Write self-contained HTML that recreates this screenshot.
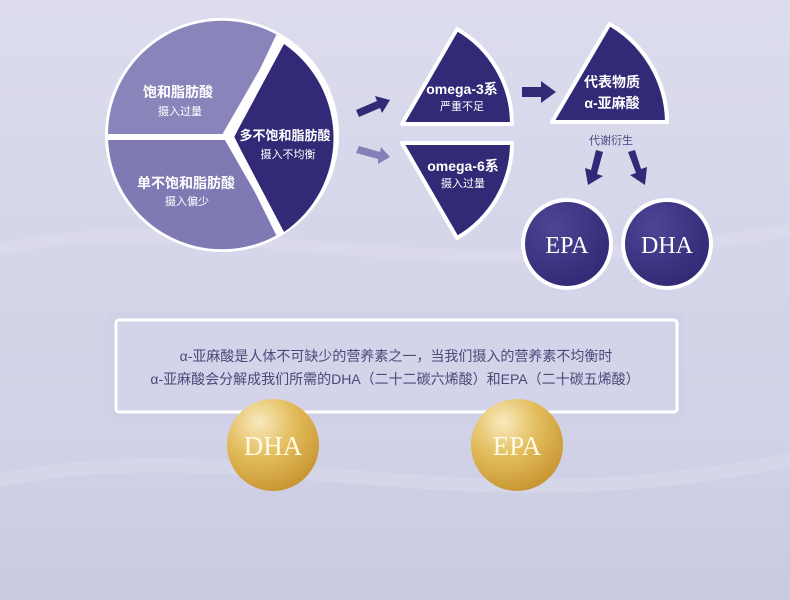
<!DOCTYPE html>
<html><head><meta charset="utf-8"><style>
html,body{margin:0;padding:0;width:790px;height:600px;overflow:hidden}
body{background:linear-gradient(180deg,#dcdcee 0%,#d6d6ea 40%,#d2d2e8 70%,#c9c9e0 100%);font-family:"Liberation Sans","Noto Sans CJK SC",sans-serif}
svg{position:absolute;left:0;top:0}
</style></head><body>
<svg width="790" height="600" viewBox="0 0 790 600" xmlns="http://www.w3.org/2000/svg">
<defs>
<radialGradient id="pur" cx="0.35" cy="0.3" r="0.8"><stop offset="0" stop-color="#4e4595"/><stop offset="1" stop-color="#2f2772"/></radialGradient>
<radialGradient id="gold" cx="0.35" cy="0.25" r="0.85"><stop offset="0" stop-color="#f8e9bd"/><stop offset="0.45" stop-color="#e3bd5c"/><stop offset="1" stop-color="#c38f2a"/></radialGradient>
</defs>
<path d="M0,250 C200,200 400,300 790,230" stroke="#e2e2f0" stroke-width="12" fill="none" opacity="0.35"/>
<path d="M0,480 C250,430 450,530 790,460" stroke="#e2e2f0" stroke-width="14" fill="none" opacity="0.35"/>
<!-- pie -->
<circle cx="222" cy="135" r="117" fill="#fff"/>
<path d="M222,135 L279,36 A114,114 0 0 0 108,135 Z" fill="#8985ba"/>
<path d="M222,135 L108,135 A114,114 0 0 0 279,234 Z" fill="#7f7ab3"/>
<path d="M234,137 L284,44 A114,114 0 0 1 284,232 Z" fill="#322a76"/>
<path d="M279,36 L231,137 L279,234 M108,137 L231,137" stroke="#fff" stroke-width="6" fill="none"/>
<g fill="#fff" text-anchor="middle" font-weight="bold" font-size="14">
<text x="178" y="97">饱和脂肪酸</text>
<text x="186" y="188">单不饱和脂肪酸</text>
</g>
<text x="285" y="140" fill="#fff" text-anchor="middle" font-weight="bold" font-size="13">多不饱和脂肪酸</text>
<g fill="#fff" text-anchor="middle" font-size="11">
<text x="180" y="115">摄入过量</text>
<text x="187" y="205">摄入偏少</text>
<text x="288" y="158">摄入不均衡</text>
</g>
<!-- sectors -->
<g fill="#322a76" stroke="#fff" stroke-width="4" stroke-linejoin="round">
<path d="M402,124 L457,29 A110,110 0 0 1 512,124 Z"/>
<path d="M402,143 L512,143 A110,110 0 0 1 457,238 Z"/>
<path d="M552,122 L609.5,24 A115,115 0 0 1 667,122 Z"/>
</g>
<g fill="#fff" text-anchor="middle" font-weight="bold" font-size="14">
<text x="462" y="94">omega-3系</text>
<text x="463" y="171">omega-6系</text>
<text x="612" y="87">代表物质</text>
<text x="612" y="108">α-亚麻酸</text>
</g>
<g fill="#fff" text-anchor="middle" font-size="11">
<text x="462" y="110">严重不足</text>
<text x="463" y="187">摄入过量</text>
</g>
<text x="611" y="144" fill="#4a4580" font-size="11" text-anchor="middle">代谢衍生</text>
<!-- arrows -->
<g fill="#322a76">
<path d="M356,110 L377,101 L375,96 L390,100 L382,113 L380,108 L359,117 Z"/>
<path d="M522,87 L541,87 L541,81 L556,92 L541,103 L541,97 L522,97 Z"/>
<path d="M596,150 L603,152 L597,174 L603,176 L588,185 L585,168 L591,170 Z"/>
<path d="M628,152 L635,150 L641,169 L647,167 L645,185 L630,175 L636,173 Z"/>
</g>
<path d="M356,153 L359,146 L380,152 L381,147 L390,157 L378,164 L378,159 Z" fill="#8480b8"/>
<!-- circles -->
<g stroke="#fff" stroke-width="4" fill="url(#pur)">
<circle cx="567" cy="244" r="44"/>
<circle cx="667" cy="244" r="44"/>
</g>
<g fill="#fff" font-family="Liberation Serif,serif" font-size="24" text-anchor="middle">
<text x="567" y="253">EPA</text>
<text x="667" y="253">DHA</text>
</g>
<!-- box -->
<rect x="105" y="312" width="580" height="110" rx="8" fill="#cfcfe6" opacity="0.7"/>
<rect x="116" y="320" width="561" height="92" rx="3" fill="#d3d3e9" stroke="#fff" stroke-width="3"/>
<g fill="#4d4878" font-size="14" text-anchor="middle">
<text x="396" y="361">α-亚麻酸是人体不可缺少的营养素之一，当我们摄入的营养素不均衡时</text>
<text x="395" y="384">α-亚麻酸会分解成我们所需的DHA（二十二碳六烯酸）和EPA（二十碳五烯酸）</text>
</g>
<circle cx="273" cy="445" r="46" fill="url(#gold)"/>
<circle cx="517" cy="445" r="46" fill="url(#gold)"/>
<g fill="#fffbe8" font-family="Liberation Serif,serif" font-size="27" text-anchor="middle">
<text x="273" y="455">DHA</text>
<text x="517" y="455">EPA</text>
</g>
</svg>
</body></html>
